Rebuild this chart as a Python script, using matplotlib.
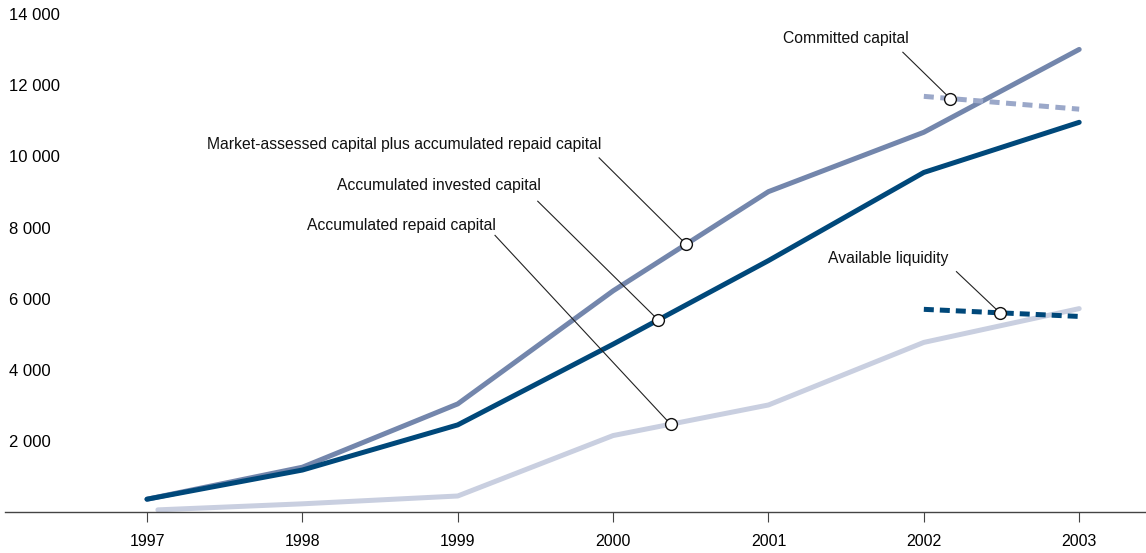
import numpy as np
import matplotlib
matplotlib.use('Agg')
import matplotlib.pyplot as plt

plt.rcParams['font.family'] = ['Liberation Sans', 'DejaVu Sans']

years = [1997, 1998, 1999, 2000, 2001, 2002, 2003]
market_capital = [360, 1260, 3040, 6220, 9010, 10680, 13010]
invested_capital = [360, 1180, 2450, 4720, 7070, 9550, 10960]
repaid_years = [1997.07, 1998, 1999, 2000, 2001, 2002, 2003]
repaid_capital = [60, 230, 450, 2150, 3010, 4770, 5720]
forecast_years = [2002, 2003]
committed_capital = [11690, 11330]
available_liquidity = [5700, 5500]
yticks = [2000, 4000, 6000, 8000, 10000, 12000, 14000]
ytick_labels = ['2 000', '4 000', '6 000', '8 000', '10 000', '12 000', '14 000']

c_market = '#7386ac'
c_invested = '#00487a'
c_repaid = '#c9cfe0'
c_committed = '#9ba8c9'

fig = plt.figure(figsize=(11.46, 5.53), dpi=100)
ax = fig.add_axes([5 / 1146, 1 - 512 / 553, 1 - 5 / 1146, 512 / 553])

lw = 3.6
ax.plot(repaid_years, repaid_capital, color=c_repaid, lw=lw, solid_capstyle='round', solid_joinstyle='round')
ax.plot(years, market_capital, color=c_market, lw=lw, solid_capstyle='round', solid_joinstyle='round')
ax.plot(years, invested_capital, color=c_invested, lw=lw, solid_capstyle='round', solid_joinstyle='round')
ax.plot(forecast_years, committed_capital, color=c_committed, lw=lw, dashes=(2.0, 1.3))
ax.plot(forecast_years, available_liquidity, color=c_invested, lw=lw, dashes=(2.0, 1.2))

ax.set_xlim(1996.086, 2003.43)
ax.set_ylim(0, 14400)

# annotations: label, x of circle on the line, series, text centre, start of leader line
notes = [
    ('Committed capital', 2002.17, forecast_years, committed_capital, (2001.496, 13330), (2001.865, 12930)),
    ('Available liquidity', 2002.49, forecast_years, available_liquidity, (2001.77, 7140), (2002.21, 6760)),
    ('Market-assessed capital plus accumulated repaid capital', 2000.47, years, market_capital,
     (1998.657, 10330), (1999.91, 9960)),
    ('Accumulated invested capital', 2000.29, years, invested_capital, (1998.88, 9180), (1999.515, 8740)),
    ('Accumulated repaid capital', 2000.37, years, repaid_capital, (1998.64, 8050), (1999.24, 7780)),
]
for label, xp, sx, sy, txy, start in notes:
    yp = np.interp(xp, sx, sy)
    ax.text(txy[0], txy[1], label, ha='center', va='center', fontsize=11.3, color='#111111')
    ax.plot([start[0], xp], [start[1], yp], color='#222222', lw=0.8, zorder=5)
    ax.plot([xp], [yp], 'o', ms=8.5, mfc='white', mec='#111111', mew=1.0, zorder=6)

for s in ['top', 'right', 'left']:
    ax.spines[s].set_visible(False)
ax.spines['bottom'].set_color('#444444')
ax.spines['bottom'].set_linewidth(1.0)

ax.set_xticks(years)
ax.set_xticklabels([str(y) for y in years], fontsize=11.5)
ax.tick_params(axis='x', length=7, width=0.8, color='#444444', pad=9)
ax.set_yticks(yticks)
ax.set_yticklabels(ytick_labels, fontsize=12)
ax.tick_params(axis='y', length=0, pad=-3)
for t in ax.get_yticklabels():
    t.set_horizontalalignment('left')

fig.savefig('out.png', dpi=100)
